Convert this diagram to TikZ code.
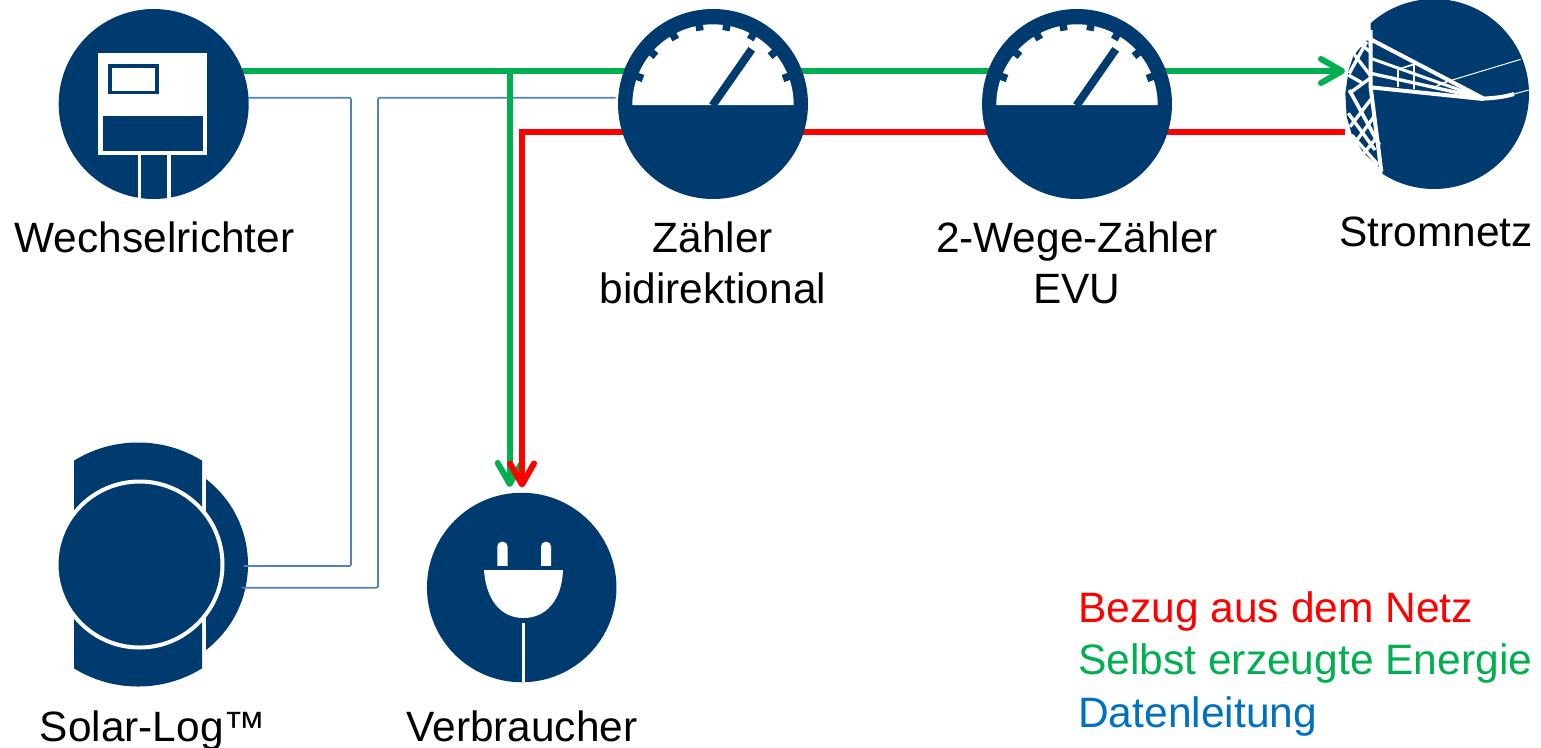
\documentclass[tikz,border=0pt]{standalone}
\usepackage{fontspec}
\setmainfont{Liberation Sans}
\usetikzlibrary{arrows.meta,backgrounds}
\definecolor{navy}{HTML}{003B70}
\definecolor{linegreen}{HTML}{00B050}
\definecolor{linered}{HTML}{FF0000}
\definecolor{lineblue}{HTML}{4F81BD}
\definecolor{txtblue}{HTML}{0070C0}
\def\px{0.75pt}
\tikzset{
  disc/.style={circle,fill=navy,inner sep=0pt,minimum size=#1*\px},
  lbl/.style={anchor=base,inner sep=0pt,font=\fontsize{31.8}{38}\selectfont,text=black},
  leg/.style={anchor=base west,inner sep=0pt,font=\fontsize{31.9}{38}\selectfont},
  barb/.style={-{Straight Barb[length=21*\px,width=24*\px,round]}},
  pgreen/.style={line width=6*\px,draw=linegreen},
  pred/.style={line width=6*\px,draw=linered},
  data/.style={line width=1.8*\px,draw=lineblue,rounded corners=1pt},
  wht/.style={draw=white,line width=#1*0.25pt},
  meter/.pic={
    \fill[white] (-80.7,1) arc[start angle=180,end angle=360,radius=80.7] -- cycle;
    \foreach \a in {20,40,...,160}
      \draw[navy,line width=7.5*\px] (-\a:74.5) -- (-\a:83);
    \draw[navy,line width=8*\px] (-0.5,1.5) -- (38.7,-54.7);
  }
}
\begin{document}
\begin{tikzpicture}[x=0.75pt,y=-0.75pt]
\useasboundingbox (0,0) rectangle (1541,747);
% inverter
\node[disc=190] (wr) at (153.7,104) {};
\fill[white] (98.3,52.7) rectangle (207,155);
\fill[navy] (102.7,115.7) rectangle (203,151);
\fill[navy] (108,64.3) rectangle (158.7,94.3);
\fill[white] (112,68.3) rectangle (155,90.7);
\fill[white] (137.5,155) rectangle (140.7,198);
\fill[white] (167.3,155) rectangle (170.7,198);
% meters
\node[disc=190] (m1) at (713,104) {};
\node[disc=190] (m2) at (1077,104) {};
\pic at (713,104) {meter};
\pic at (1077,104) {meter};
% plug
\node[disc=189.5] (plug) at (521.7,587.5) {};
\fill[white,rounded corners=3.5pt] (497.3,572) -- (497.3,541.7) -- (507.5,541.7) -- (507.5,572) -- cycle;
\fill[white,rounded corners=3.5pt] (541,572) -- (541,541.7) -- (551,541.7) -- (551,572) -- cycle;
\fill[navy] (490,566.3) rectangle (560,570);
\fill[white] (484,570) -- (563,570) .. controls (562,600) and (546,618) .. (523.5,618) .. controls (501,618) and (486,600) .. (484,570) -- cycle;
\fill[white] (521.7,622.7) rectangle (524.7,682);
% data logger
\begin{scope}
  \clip (74,440) rectangle (202,690);
  \fill[navy] (138,564.5) circle[radius=122];
\end{scope}
\begin{scope}
  \clip (206,440) rectangle (260,690);
  \fill[navy] (140,564.5) circle[radius=108];
\end{scope}
\node[circle,fill=navy,draw=white,line width=4*\px,inner sep=0pt,minimum size=166*\px] (sl) at (139.5,564.5) {};
% grid
\node[disc=190] (grid) at (1434,94) {};
\begin{scope}[shift={(1320,10)},x=0.25pt,y=-0.25pt]
  \fill[white] (152,65) -- (152,230) -- (187,490) -- (230,600) -- (0,600) -- (0,-40) -- (152,-40) -- cycle;
  \fill[navy] (138,92) -- (100,138) -- (86,180) -- (76,250) -- (80,320) -- (95,372) -- (130,428) -- (178,472) -- (166,340) -- (148,235) -- (146,92) -- cycle;
  \draw[wht=12,line cap=butt] (152,60) -- (152,232) -- (184,485);
  \draw[wht=10] (100,130) -- (150,195);
  \draw[wht=10] (140,95) -- (88,190);
  \draw[wht=10] (85,195) -- (125,218);
  \draw[wht=10] (125,105) -- (150,125);
  \draw[wht=10] (150,205) -- (88,250);
  \draw[wht=11] (88,240) -- (178,405);
  \draw[wht=10] (85,310) -- (165,420);
  \draw[wht=10] (155,265) -- (90,350);
  \draw[wht=10] (162,320) -- (100,405);
  \draw[wht=10] (168,385) -- (130,432);
  \draw[wht=10] (95,375) -- (175,465);
  \draw[wht=12] (152,88) -- (490,265);
  \draw[wht=9] (152,145) -- (490,265);
  \draw[wht=10] (152,190) -- (490,265);
  \draw[wht=12] (152,232) -- (490,267);
  \draw[wht=12] (488,266) .. controls (520,264) and (550,262) .. (582,252);
  \draw[wht=3] (582,252) -- (626,240);
  \draw[wht=3] (390,212) -- (602,148);
  \draw[wht=6] (235,178) -- (235,232);
  \draw[wht=6] (281,163) -- (281,236);
  \draw[wht=5] (235,178) -- (281,163);
  \draw[wht=5] (350,228) -- (385,213);
\end{scope}
% connectors
\coordinate (gy) at (0,71);
\coordinate (ry) at (0,131.5);
\coordinate (tee) at (509.7,71);
\coordinate (gridG) at (1345,71);
\coordinate (gridR) at (1345,131.5);
\coordinate (redC) at (522,131.5);
\begin{scope}[on background layer]
  \draw[pgreen] (wr.center |- gy) -- (m2.east |- gy);
  \draw[pred] (m2.east |- ry) -- (m1.center |- ry);
\end{scope}
\draw[pgreen,barb] (m2.east |- gy) -- (gridG);
\draw[pred] (m2.east |- ry) -- (gridR);
\coordinate (wrD) at (248,97.7);
\coordinate (m1D) at (615.7,97.7);
\coordinate (sl1) at (244,566);
\coordinate (sl2) at (242,587.7);
\draw[data] (wrD) -- (351,97.7) -- (351,566) -- (sl1);
\draw[data] (sl2) -- (378,587.7) -- (378,97.7) -- (m1D);
\draw[pgreen,barb,shorten >=5.5*\px] (tee) -- (tee |- plug.north);
\begin{scope}[on background layer]
  \draw[pred] (m1.center |- ry) -- (redC);
\end{scope}
\draw[pred,line join=miter] (m1.west |- ry) -- (redC) -- (redC |- plug.north) [shorten >=5*\px,barb];
% labels
\node[lbl] (t1) at (154.5,252) {Wechselrichter};
\node[lbl] (t2) at (713,252) {Zähler};
\node[lbl] (t3) at (713,303) {bidirektional};
\node[lbl] (t4) at (1077,252) {2-Wege-Zähler};
\node[lbl] (t5) at (1077,303) {EVU};
\node[lbl] (t6) at (1436,246) {Stromnetz};
\node[lbl] (t7) at (153,741) {Solar-Log™};
\node[lbl] (t8) at (522,741) {Verbraucher};
\node[leg,text=linered] (l1) at (1078,622) {Bezug aus dem Netz};
\node[leg,text=linegreen] (l2) at (1078,674) {Selbst erzeugte Energie};
\node[leg,text=txtblue] (l3) at (1078,727) {Datenleitung};
\end{tikzpicture}
\end{document}
